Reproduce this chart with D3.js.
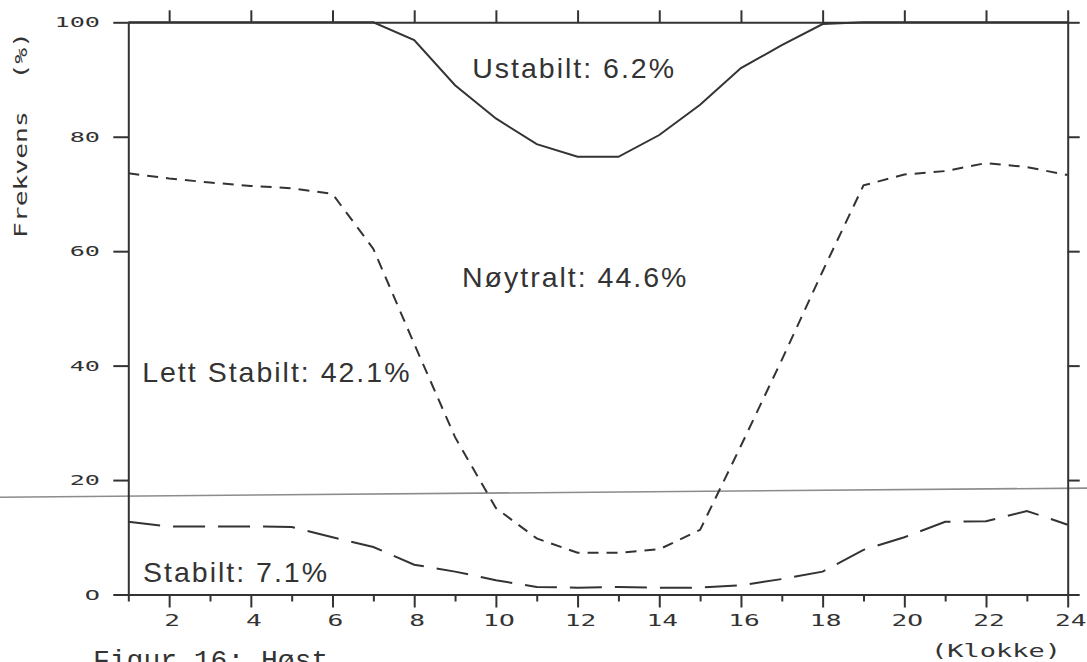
<!DOCTYPE html>
<html>
<head>
<meta charset="utf-8">
<script src="https://cdn.jsdelivr.net/npm/d3@7"></script>
<style>
  html, body { margin: 0; padding: 0; background: #ffffff; }
  svg { display: block; }
</style>
</head>
<body>
<svg id="chart" width="1087" height="662"></svg>
<script>
// ---- data ----
const hours = [1, 2, 3, 4, 5, 6, 7, 8, 9, 10, 11, 12, 13, 14, 15, 16, 17, 18, 19, 20, 21, 22, 23, 24];
// upper boundary of "Nøytralt" band (= 100 - Ustabilt), solid line
const ustabiltBoundary = [100, 100, 100, 100, 100, 100, 100, 96.9, 89.0, 83.2, 78.7, 76.5, 76.5, 80.3, 85.6, 92.0, 96.0, 99.7, 100, 100, 100, 100, 100, 100];
// upper boundary of "Lett Stabilt" band, short-dashed line
const noytraltBoundary = [73.6, 72.7, 72.0, 71.4, 71.0, 70.0, 60.4, 43.8, 27.5, 15.1, 9.8, 7.3, 7.3, 7.9, 11.3, 26.0, 41.0, 56.5, 71.5, 73.4, 74.0, 75.4, 74.7, 73.3];
// upper boundary of "Stabilt" band, long-dashed line
const stabiltBoundary = [12.7, 11.9, 11.9, 11.9, 11.8, 10.0, 8.3, 5.2, 4.0, 2.5, 1.3, 1.2, 1.3, 1.2, 1.2, 1.6, 2.7, 4.0, 7.8, 10.0, 12.7, 12.8, 14.6, 12.2];

const xMajorTicks = [2, 4, 6, 8, 10, 12, 14, 16, 18, 20, 22, 24];
const xMinorTicks = [1, 3, 5, 7, 9, 11, 13, 15, 17, 19, 21, 23];
const yTicks = [0, 20, 40, 60, 80, 100];
const yTickLabels = ["O", "20", "40", "60", "80", "100"];
const xTickLabels = ["2", "4", "6", "8", "1O", "12", "14", "16", "18", "2O", "22", "24"];

const bandLabels = ["Ustabilt: 6.2%", "Nøytralt: 44.6%", "Lett Stabilt: 42.1%", "Stabilt: 7.1%"];
const bandLabelHour = [9.42, 9.17, 1.34, 1.36];
const bandLabelValue = [90.3, 53.7, 37.1, 2.2];

const yTitle = "Frekvens  (%)";
const xTitle = "(Klokke)";
const caption = "Figur 16: Høst";

// faint scanner streak across the page (hour, value)
const scanStreakHour = [-2.2, 24.5];
const scanStreakValue = [17.0, 18.6];

// ---- drawing ----
const svg = d3.select("#chart");
const ink = "#333333";

const x = d3.scaleLinear().domain([1, 24]).range([128.3, 1067.7]);
const y = d3.scaleLinear().domain([0, 100]).range([594.5, 22.3]);

// scanner streak
svg.append("line")
  .attr("x1", x(scanStreakHour[0])).attr("y1", y(scanStreakValue[0]))
  .attr("x2", x(scanStreakHour[1])).attr("y2", y(scanStreakValue[1]))
  .attr("stroke", "#8c8c8c").attr("stroke-width", 1.6);

function styleAxis(g) {
  g.selectAll("path.domain").attr("stroke", ink).attr("stroke-width", 2);
  g.selectAll(".tick line").attr("stroke", ink).attr("stroke-width", 2);
  g.selectAll(".tick text").remove();
}

// bottom axis: major and minor ticks
svg.append("g").attr("transform", `translate(0,${y(0)})`)
  .call(d3.axisBottom(x).tickValues(xMinorTicks).tickSize(7).tickSizeOuter(0).tickFormat(""))
  .call(styleAxis);
svg.append("g").attr("transform", `translate(0,${y(0)})`)
  .call(d3.axisBottom(x).tickValues(xMajorTicks).tickSize(13).tickSizeOuter(0).tickFormat(""))
  .call(styleAxis);
// top axis
svg.append("g").attr("transform", `translate(0,${y(100)})`)
  .call(d3.axisTop(x).tickValues(xMajorTicks).tickSize(12).tickSizeOuter(0).tickFormat(""))
  .call(styleAxis);
// left axis
svg.append("g").attr("transform", `translate(${x(1)},0)`)
  .call(d3.axisLeft(y).tickValues(yTicks).tickSize(15).tickSizeOuter(0).tickFormat(""))
  .call(styleAxis);
// right axis
svg.append("g").attr("transform", `translate(${x(24)},0)`)
  .call(d3.axisRight(y).tickValues(yTicks).tickSize(12).tickSizeOuter(0).tickFormat(""))
  .call(styleAxis);

// plotter-style stretched labels
const plotFont = "'DejaVu Sans Mono', monospace";
svg.append("g").selectAll("text").data(yTicks).join("text")
  .attr("transform", d => `translate(100,${y(d) + 5}) scale(1.8,1)`)
  .attr("text-anchor", "end")
  .attr("font-family", plotFont).attr("font-size", 14)
  .attr("fill", ink)
  .text((d, i) => yTickLabels[i]);

svg.append("g").selectAll("text").data(xMajorTicks).join("text")
  .attr("transform", d => `translate(${x(d) + 3},626) scale(1.75,1)`)
  .attr("text-anchor", "middle")
  .attr("font-family", plotFont).attr("font-size", 15)
  .attr("fill", ink)
  .text((d, i) => xTickLabels[i]);

svg.append("text")
  .attr("transform", `translate(996,657) scale(1.5,1)`)
  .attr("text-anchor", "middle")
  .attr("font-family", plotFont).attr("font-size", 18)
  .attr("fill", ink)
  .text(xTitle);

svg.append("text")
  .attr("transform", `translate(27,135) rotate(-90) scale(1.55,1)`)
  .attr("text-anchor", "middle")
  .attr("font-family", plotFont).attr("font-size", 17)
  .attr("fill", ink)
  .style("white-space", "pre")
  .attr("xml:space", "preserve")
  .text(yTitle);

// data lines
const line = d3.line().x((d, i) => x(hours[i])).y(d => y(d));

svg.append("path").datum(ustabiltBoundary)
  .attr("d", line).attr("fill", "none")
  .attr("stroke", ink).attr("stroke-width", 2);

svg.append("path").datum(noytraltBoundary)
  .attr("d", line).attr("fill", "none")
  .attr("stroke", ink).attr("stroke-width", 2)
  .attr("stroke-dasharray", "11,8");

svg.append("path").datum(stabiltBoundary)
  .attr("d", line).attr("fill", "none")
  .attr("stroke", ink).attr("stroke-width", 2)
  .attr("stroke-dasharray", "32,13");

// band labels
svg.append("g").selectAll("text").data(bandLabels).join("text")
  .attr("x", (d, i) => x(bandLabelHour[i]))
  .attr("y", (d, i) => y(bandLabelValue[i]))
  .attr("font-family", "'Liberation Sans', Arial, sans-serif")
  .attr("font-size", 28.5)
  .attr("letter-spacing", 2)
  .attr("fill", ink)
  .text(d => d);

// caption (cut by the bottom edge, as in the scan)
svg.append("text")
  .attr("x", 93).attr("y", 669)
  .attr("font-family", "'Liberation Mono', 'Courier New', monospace")
  .attr("font-size", 28)
  .attr("fill", ink)
  .text(caption);
</script>
</body>
</html>
